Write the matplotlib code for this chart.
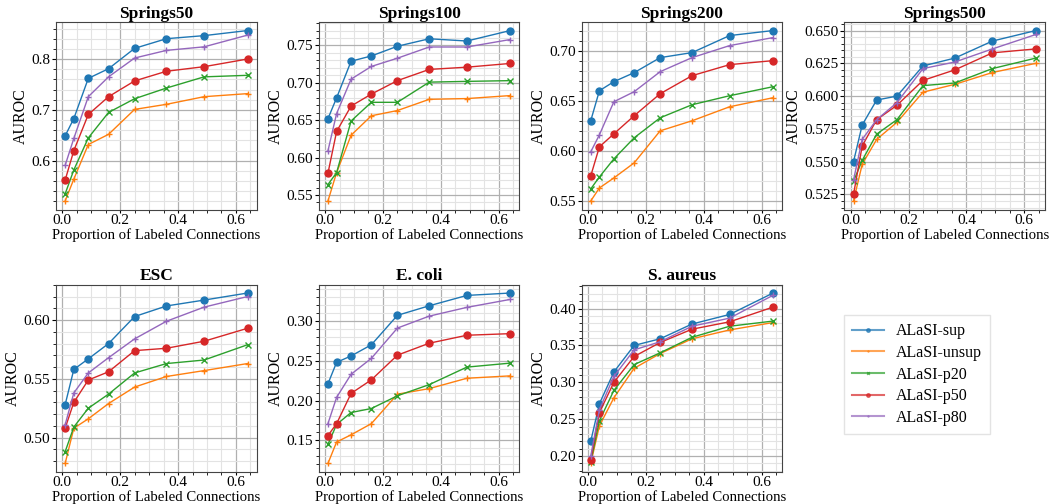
import matplotlib
matplotlib.use("Agg")
import matplotlib.pyplot as plt
from matplotlib.ticker import AutoMinorLocator, MultipleLocator

plt.rcParams['font.family'] = ['Liberation Serif', 'DejaVu Serif']
plt.rcParams['mathtext.fontset'] = 'stix'

# Proportion of labeled connections
proportions = [0.01, 0.04, 0.09, 0.16, 0.25, 0.36, 0.49, 0.64]

methods = ['ALaSI-sup', 'ALaSI-unsup', 'ALaSI-p20', 'ALaSI-p50', 'ALaSI-p80']
colors = ['#1f77b4', '#ff7f0e', '#2ca02c', '#d62728', '#9467bd']
markers = ['o', '+', 'x', 'o', '+']
marker_sizes = [5, 4, 4, 5, 4]

titles = ['Springs50', 'Springs100', 'Springs200', 'Springs500',
          'ESC', 'E. coli', 'S. aureus']
# major y tick step for each panel
y_steps = [0.1, 0.05, 0.05, 0.025, 0.05, 0.05, 0.05]

# AUROC values, one list per method, order: sup, unsup, p20, p50, p80
springs50 = [
    [0.649, 0.683, 0.762, 0.781, 0.821, 0.840, 0.846, 0.856],
    [0.521, 0.564, 0.632, 0.652, 0.701, 0.711, 0.726, 0.732],
    [0.535, 0.582, 0.645, 0.695, 0.722, 0.743, 0.765, 0.768],
    [0.562, 0.620, 0.691, 0.726, 0.757, 0.776, 0.785, 0.800],
    [0.591, 0.644, 0.726, 0.765, 0.802, 0.817, 0.824, 0.847],
]
springs100 = [
    [0.652, 0.680, 0.729, 0.736, 0.749, 0.759, 0.756, 0.770],
    [0.542, 0.580, 0.630, 0.656, 0.663, 0.678, 0.679, 0.683],
    [0.564, 0.580, 0.649, 0.674, 0.674, 0.701, 0.702, 0.703],
    [0.579, 0.635, 0.669, 0.685, 0.703, 0.718, 0.721, 0.726],
    [0.609, 0.659, 0.705, 0.722, 0.733, 0.748, 0.748, 0.758],
]
springs200 = [
    [0.630, 0.660, 0.669, 0.678, 0.693, 0.698, 0.715, 0.720],
    [0.550, 0.563, 0.573, 0.588, 0.620, 0.630, 0.644, 0.653],
    [0.562, 0.574, 0.592, 0.613, 0.633, 0.646, 0.655, 0.664],
    [0.575, 0.604, 0.617, 0.635, 0.657, 0.675, 0.686, 0.690],
    [0.599, 0.616, 0.649, 0.659, 0.679, 0.693, 0.705, 0.713],
]
springs500 = [
    [0.550, 0.578, 0.597, 0.600, 0.623, 0.629, 0.642, 0.650],
    [0.520, 0.548, 0.567, 0.580, 0.603, 0.609, 0.618, 0.625],
    [0.535, 0.551, 0.571, 0.582, 0.608, 0.610, 0.621, 0.629],
    [0.525, 0.562, 0.582, 0.593, 0.612, 0.620, 0.633, 0.636],
    [0.536, 0.567, 0.582, 0.595, 0.621, 0.626, 0.636, 0.647],
]
esc = [
    [0.528, 0.558, 0.567, 0.580, 0.603, 0.612, 0.617, 0.623],
    [0.478, 0.508, 0.516, 0.529, 0.543, 0.552, 0.557, 0.563],
    [0.488, 0.509, 0.525, 0.537, 0.555, 0.563, 0.566, 0.579],
    [0.508, 0.530, 0.549, 0.556, 0.574, 0.576, 0.582, 0.593],
    [0.511, 0.538, 0.555, 0.568, 0.584, 0.599, 0.611, 0.620],
]
ecoli = [
    [0.221, 0.248, 0.256, 0.270, 0.307, 0.319, 0.332, 0.335],
    [0.121, 0.148, 0.157, 0.171, 0.208, 0.215, 0.228, 0.231],
    [0.145, 0.170, 0.185, 0.190, 0.206, 0.220, 0.242, 0.247],
    [0.156, 0.171, 0.209, 0.226, 0.257, 0.272, 0.282, 0.284],
    [0.171, 0.204, 0.233, 0.253, 0.291, 0.306, 0.317, 0.327],
]
saureus = [
    [0.220, 0.271, 0.314, 0.350, 0.359, 0.379, 0.392, 0.421],
    [0.190, 0.241, 0.279, 0.319, 0.339, 0.359, 0.371, 0.381],
    [0.192, 0.248, 0.289, 0.324, 0.340, 0.361, 0.376, 0.383],
    [0.195, 0.259, 0.300, 0.335, 0.354, 0.372, 0.382, 0.402],
    [0.200, 0.263, 0.308, 0.344, 0.355, 0.376, 0.387, 0.418],
]

datasets = [springs50, springs100, springs200, springs500, esc, ecoli, saureus]

fig, axes = plt.subplots(2, 4, figsize=(10.51, 5.04), dpi=100)
fig.subplots_adjust(left=0.0533, right=0.9943, top=0.9563, bottom=0.0635,
                    wspace=0.31, hspace=0.40)
axes = axes.flatten()

for ax, title, data, step in zip(axes, titles, datasets, y_steps):
    for vals, name, c, m, ms in zip(data, methods, colors, markers, marker_sizes):
        ax.plot(proportions, vals, color=c, marker=m, markersize=ms,
                linewidth=1, label=name)
    ax.set_title(title, fontsize=12.5, fontweight='bold', pad=3)
    ax.set_xlabel('Proportion of Labeled Connections', fontsize=10.6, labelpad=1)
    ax.set_ylabel('AUROC', fontsize=11.5, labelpad=2)
    ax.set_xticks([0.0, 0.2, 0.4, 0.6])
    ax.yaxis.set_major_locator(MultipleLocator(step))
    ax.xaxis.set_minor_locator(AutoMinorLocator(4))
    ax.yaxis.set_minor_locator(AutoMinorLocator(5))
    ax.grid(which='major', color='#b0b0b0', linewidth=0.9)
    ax.grid(which='minor', color='#e3e3e3', linewidth=0.8)
    ax.set_axisbelow(True)
    ax.tick_params(labelsize=11, pad=1, length=3)
    ax.tick_params(axis='x', pad=1, length=2)
    ax.tick_params(which='minor', length=2)
    for s in ax.spines.values():
        s.set_color('#444444')

# Legend goes in the empty last cell
axes[7].axis('off')
handles, labels = axes[0].get_legend_handles_labels()
leg = axes[7].legend(handles, labels, loc='center left',
                     bbox_to_anchor=(0.0, 0.52), borderaxespad=0,
                     fontsize=11.5, markerscale=0.5, handlelength=2.0,
                     handletextpad=0.75, fancybox=False, edgecolor='#dddddd',
                     borderpad=0.5, labelspacing=0.35)
for line in leg.get_lines():
    line.set_linewidth(1.5)
    line.set_alpha(0.7)

plt.savefig('out.png', dpi=100)
